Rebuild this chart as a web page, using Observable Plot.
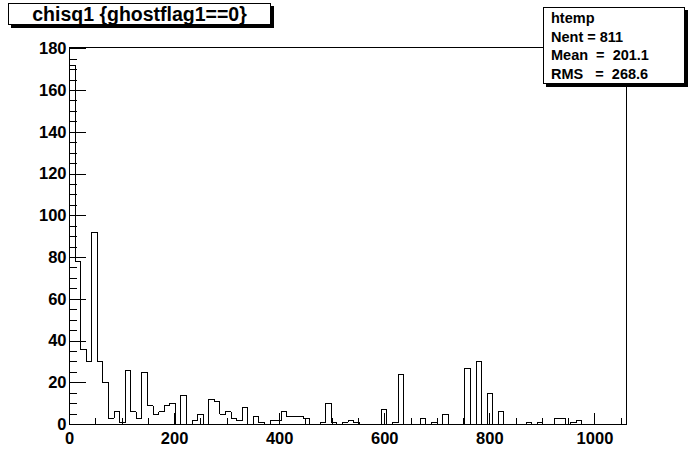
<!DOCTYPE html>
<html>
<head>
<meta charset="utf-8">
<script src="https://cdn.jsdelivr.net/npm/d3@7"></script>
<script src="https://cdn.jsdelivr.net/npm/@observablehq/plot@0.6"></script>
<style>
  html, body { margin: 0; padding: 0; background: white; }
  #wrap { position: relative; width: 696px; height: 472px; background: white; overflow: hidden; }
  #title { position: absolute; left: 8px; top: 3px; width: 261px; height: 20px; border: 1px solid black;
           box-shadow: 3px 3px 0 black; background: white; font: bold 19.5px "Liberation Sans", Arial, sans-serif;
           line-height: 20px; text-align: center; white-space: pre; }
  #stats { position: absolute; left: 543px; top: 7px; width: 140px; height: 75px; border: 1px solid black;
           box-shadow: 3px 3px 0 black; background: white; font: bold 14.5px "Liberation Sans", Arial, sans-serif; }
  #stats div { position: absolute; left: 7px; height: 18px; line-height: 18px; white-space: pre; }
</style>
</head>
<body>
<div id="wrap"></div>
<script>
// ---- data ----
const titleText = "chisq1 {ghostflag1==0}";
const statsLines = ["htemp", "Nent = 811", "Mean  =  201.1", "RMS   =  268.6"];
const xRange = [0, 1060];          // histogram range
const yMax = 180.6;                // frame top
const binCounts = [
  172, 78, 36, 30, 92, 30, 20, 3, 6, 1,
  26, 6, 3, 25, 9, 5, 6, 9, 10, 0,
  14, 0, 2, 5, 0, 12, 11, 5, 6, 3,
  2, 8, 0, 4, 1, 0, 2, 2, 6, 4,
  4, 4, 3, 0, 0, 1, 10, 1, 0, 1,
  2, 1, 0, 0, 0, 0, 7, 0, 1, 24,
  0, 0, 0, 3, 0, 1, 0, 5, 0, 0,
  0, 27, 0, 30, 0, 15, 0, 6, 0, 0,
  0, 0, 1, 0, 1, 0, 0, 3, 3, 0,
  1, 2, 0, 0, 0, 0, 0, 0, 0, 0
];
const xTickLabels = [0, 200, 400, 600, 800, 1000];
const yTickLabels = [0, 20, 40, 60, 80, 100, 120, 140, 160, 180];
const xMinorTicks = d3.range(0, 1060, 50);
const yMinorTicks = d3.range(0, 181, 5);

// ---- layout ----
const W = 696, H = 472;
const mL = 69, mR = 70, mT = 47, mB = 48;
const frameW = W - mL - mR, frameH = H - mT - mB;

// step outline points
const bw = (xRange[1] - xRange[0]) / binCounts.length;
const pts = [{x: xRange[0], y: 0}];
binCounts.forEach((c, i) => pts.push({x: xRange[0] + i * bw, y: c}));
pts.push({x: xRange[1], y: binCounts[binCounts.length - 1]});
pts.push({x: xRange[1], y: 0});

const chart = Plot.plot({
  width: W, height: H,
  marginLeft: mL, marginRight: mR, marginTop: mT, marginBottom: mB,
  x: {domain: xRange},
  y: {domain: [0, yMax]},
  style: "font-family: 'Liberation Sans', Arial, sans-serif; font-size: 16.5px; font-weight: bold; background: white; shape-rendering: crispEdges; overflow: visible;",
  marks: [
    Plot.line(pts, {x: "x", y: "y", curve: "step-after", stroke: "black", strokeWidth: 1}),
    // inward ticks
    Plot.tickY(yMinorTicks, {y: d => d, insetRight: frameW - 8, stroke: "black"}),
    Plot.tickY(yTickLabels, {y: d => d, insetRight: frameW - 17, stroke: "black"}),
    Plot.tickX(xMinorTicks, {x: d => d, insetTop: frameH - 6, stroke: "black"}),
    Plot.tickX(xTickLabels, {x: d => d, insetTop: frameH - 11, stroke: "black"}),
    Plot.frame({stroke: "black"}),
    Plot.axisY(yTickLabels, {tickSize: 0, tickPadding: 3, tickFormat: d3.format("d"), label: null, fill: "black"}),
    Plot.axisX(xTickLabels, {tickSize: 0, tickPadding: 8, tickFormat: d3.format("d"), label: null, fill: "black"})
  ]
});

const wrap = document.getElementById("wrap");
wrap.appendChild(chart);

const t = document.createElement("div");
t.id = "title";
t.textContent = titleText;
wrap.appendChild(t);

const s = document.createElement("div");
s.id = "stats";
const lineTops = [1, 19.5, 38, 56.5];
statsLines.forEach((txt, i) => {
  const d = document.createElement("div");
  d.style.top = lineTops[i] + "px";
  d.textContent = txt;
  s.appendChild(d);
});
wrap.appendChild(s);
</script>
</body>
</html>
